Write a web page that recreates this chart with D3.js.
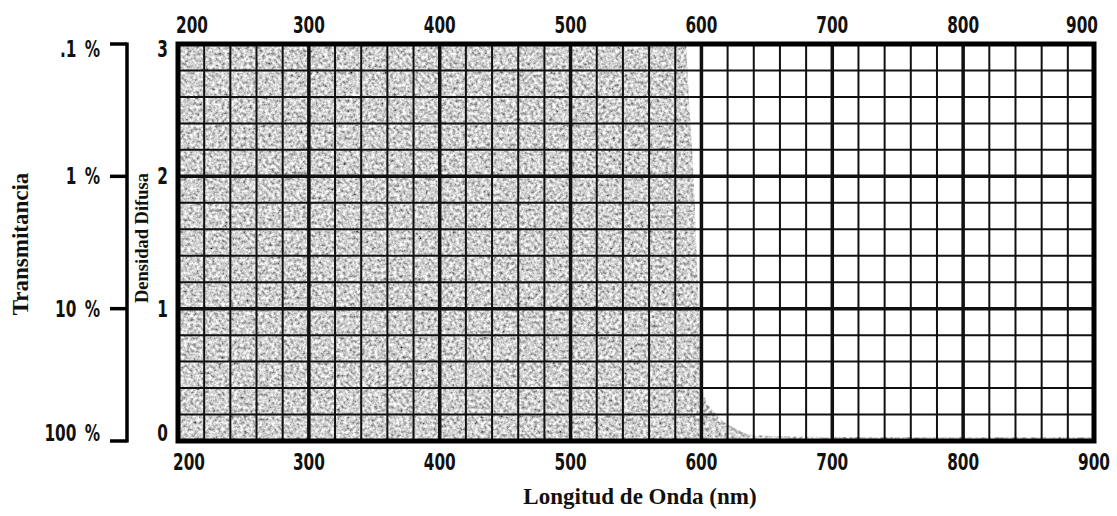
<!DOCTYPE html>
<html>
<head>
<meta charset="utf-8">
<script src="https://cdn.jsdelivr.net/npm/d3@7"></script>
<style>
  body { margin: 0; background: #fff; }
  .num { font-family: "Liberation Sans Narrow", "DejaVu Sans Condensed", "Liberation Sans", sans-serif; font-weight: bold; font-size: 23px; fill: #111; }
  .ttl { font-family: "Liberation Serif", "DejaVu Serif", serif; font-weight: bold; fill: #111; }
</style>
</head>
<body>
<div id="chart"></div>
<script>
// wavelength (nm) vs diffuse density
var wavelengths = [200, 560, 588, 591, 594, 596, 598, 600, 603, 607, 612, 618, 625, 637, 660, 700, 800, 900]
var density     = [3.3, 3.3, 3.0, 2.5, 2.0, 1.5, 1.0, 0.45, 0.32, 0.25, 0.2, 0.14, 0.1, 0.05, 0.035, 0.03, 0.03, 0.028]

var wlTicks = [200, 300, 400, 500, 600, 700, 800, 900]
var densTicks = [0, 1, 2, 3]
var transLabels = ["100 %", "10 %", "1 %", ".1 %"]

var width = 1117
var height = 516

var x = d3.scaleLinear().domain([200, 900]).range([178, 1094])
var y = d3.scaleLinear().domain([0, 3]).range([441, 44])

var svg = d3.select('#chart').append('svg')
            .attr('width', width)
            .attr('height', height)

var defs = svg.append('defs')
defs.append('clipPath').attr('id', 'plotclip')
    .append('rect')
    .attr('x', x(200)).attr('y', y(3))
    .attr('width', x(900) - x(200)).attr('height', y(0) - y(3))

// grainy grey like the printed filter curve
var f = defs.append('filter').attr('id', 'grain')
            .attr('x', 0).attr('y', 0).attr('width', '100%').attr('height', '100%')
f.append('feTurbulence').attr('type', 'fractalNoise').attr('baseFrequency', 0.32)
 .attr('numOctaves', 3).attr('seed', 7).attr('result', 'noise')
f.append('feColorMatrix').attr('in', 'noise').attr('type', 'matrix')
 .attr('values', '1.5 0 0 0 -0.12  1.5 0 0 0 -0.12  1.5 0 0 0 -0.12  0 0 0 0 1')
 .attr('result', 'grey')
f.append('feComposite').attr('in', 'grey').attr('in2', 'SourceGraphic').attr('operator', 'in')

var pts = wavelengths.map(function(w, i) { return [w, density[i]] })

var area = d3.area()
             .x(function(d) { return x(d[0]) })
             .y0(y(0))
             .y1(function(d) { return y(d[1]) })
             .curve(d3.curveMonotoneX)

svg.append('path')
   .datum(pts)
   .attr('clip-path', 'url(#plotclip)')
   .attr('d', area)
   .attr('fill', '#a0a0a0')
   .attr('filter', 'url(#grain)')

// grid
var g = svg.append('g')
var minorX = d3.range(200, 901, 20)
var minorY = d3.range(0, 3.01, 0.2)

g.selectAll('.vx').data(minorX).enter().append('line')
 .attr('x1', function(d) { return x(d) }).attr('x2', function(d) { return x(d) })
 .attr('y1', y(0)).attr('y2', y(3))
 .attr('stroke', '#111')
 .attr('stroke-width', function(d) { return d % 100 === 0 ? 3.5 : 2 })

g.selectAll('.hy').data(minorY).enter().append('line')
 .attr('y1', function(d) { return y(d) }).attr('y2', function(d) { return y(d) })
 .attr('x1', x(200)).attr('x2', x(900))
 .attr('stroke', '#111')
 .attr('stroke-width', function(d) { return Math.abs(d - Math.round(d)) < 0.01 ? 3.5 : 2 })

g.append('rect')
 .attr('x', x(200)).attr('y', y(3))
 .attr('width', x(900) - x(200)).attr('height', y(0) - y(3))
 .attr('fill', 'none').attr('stroke', '#000').attr('stroke-width', 5)

// condensed numbers: squeeze horizontally
var sx = 0.74
function place(px, py) { return 'translate(' + px + ',' + py + ') scale(' + sx + ',1)' }

// wavelength labels top and bottom
function anchorFor(d) { return d === 200 ? 'start' : (d === 900 ? 'end' : 'middle') }
function xFor(d) { return d === 200 ? x(d) - 2 : (d === 900 ? x(d) + 4 : x(d)) }

svg.selectAll('.tl').data(wlTicks).enter().append('text')
   .attr('class', 'num')
   .attr('transform', function(d) { return place(xFor(d), 33) })
   .attr('text-anchor', anchorFor)
   .text(function(d) { return d })

svg.selectAll('.bl').data(wlTicks).enter().append('text')
   .attr('class', 'num')
   .attr('transform', function(d) { return place(d === 900 ? x(d) + 16 : (d === 200 ? x(d) - 5 : x(d)), 470) })
   .attr('text-anchor', anchorFor)
   .text(function(d) { return d })

function labelY(d) { return d === 3 ? y(d) + 13 : (d === 0 ? y(d) : y(d) + 8) }

// density labels
svg.selectAll('.dl').data(densTicks).enter().append('text')
   .attr('class', 'num')
   .attr('transform', function(d) { return place(168, labelY(d)) })
   .attr('text-anchor', 'end')
   .text(function(d) { return d })

// transmittance bracket
svg.append('line')
   .attr('x1', 127).attr('x2', 127)
   .attr('y1', y(3) - 1.5).attr('y2', y(0) + 1.5)
   .attr('stroke', '#000').attr('stroke-width', 3.5)

svg.selectAll('.tt').data(densTicks).enter().append('line')
   .attr('x1', 110).attr('x2', 127)
   .attr('y1', function(d) { return y(d) }).attr('y2', function(d) { return y(d) })
   .attr('stroke', '#000').attr('stroke-width', 3.5)

svg.selectAll('.tlab').data(densTicks).enter().append('text')
   .attr('class', 'num')
   .attr('transform', function(d) { return place(100, labelY(d)) })
   .attr('text-anchor', 'end')
   .style('word-spacing', '4px')
   .text(function(d, i) { return transLabels[i] })

// titles
svg.append('text')
   .attr('class', 'ttl')
   .attr('transform', 'translate(28,244) rotate(-90)')
   .attr('text-anchor', 'middle')
   .style('font-size', '23px')
   .text('Transmitancia')

svg.append('text')
   .attr('class', 'ttl')
   .attr('transform', 'translate(148,238) rotate(-90)')
   .attr('text-anchor', 'middle')
   .style('font-size', '18.5px')
   .text('Densidad Difusa')

svg.append('text')
   .attr('class', 'ttl')
   .attr('x', 640).attr('y', 504)
   .attr('text-anchor', 'middle')
   .style('font-size', '23px')
   .text('Longitud de Onda (nm)')
</script>
</body>
</html>
